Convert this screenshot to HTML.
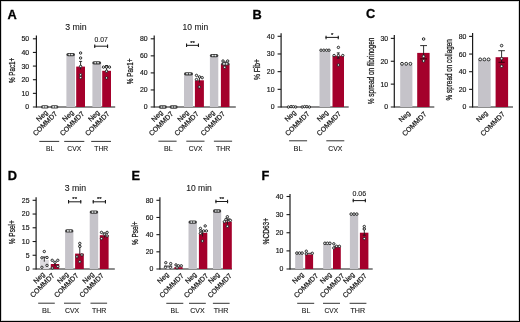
<!DOCTYPE html>
<html><head><meta charset="utf-8"><style>
html,body{margin:0;padding:0;background:#fff;width:520px;height:322px;overflow:hidden;}
body{position:relative;font-family:"Liberation Sans", sans-serif;}
</style></head><body>
<svg width="520" height="322" viewBox="0 0 520 322" style="position:absolute;left:0;top:0;will-change:transform">
<g font-family='"Liberation Sans", sans-serif'>
<rect x="0.5" y="0.5" width="519" height="321" fill="none" stroke="#000" stroke-width="1"/>
<rect x="1.5" y="1.5" width="517" height="319" fill="none" stroke="#bbb" stroke-width="0.6"/>
<text x="7.40" y="18.50" font-size="12.8" text-anchor="start" font-weight="bold" fill="#000" stroke="#000" stroke-width="0.3">A</text>
<text x="252.40" y="18.80" font-size="12.8" text-anchor="start" font-weight="bold" fill="#000" stroke="#000" stroke-width="0.3">B</text>
<text x="366.00" y="18.20" font-size="12.8" text-anchor="start" font-weight="bold" fill="#000" stroke="#000" stroke-width="0.3">C</text>
<text x="7.80" y="179.60" font-size="12.8" text-anchor="start" font-weight="bold" fill="#000" stroke="#000" stroke-width="0.3">D</text>
<text x="131.60" y="180.40" font-size="12.8" text-anchor="start" font-weight="bold" fill="#000" stroke="#000" stroke-width="0.3">E</text>
<text x="261.60" y="180.20" font-size="12.8" text-anchor="start" font-weight="bold" fill="#000" stroke="#000" stroke-width="0.3">F</text>
<line x1="36.40" y1="35.60" x2="36.40" y2="107.60" stroke="#1a1a1a" stroke-width="1.2"/>
<line x1="32.90" y1="107.00" x2="115.20" y2="107.00" stroke="#1a1a1a" stroke-width="1.2"/>
<text x="29.20" y="109.45" font-size="6.9" text-anchor="end" font-weight="normal" fill="#1a1a1a" stroke="#1a1a1a" stroke-width="0.18">0</text>
<line x1="32.90" y1="93.36" x2="36.40" y2="93.36" stroke="#1a1a1a" stroke-width="1.1"/>
<text x="29.20" y="95.81" font-size="6.9" text-anchor="end" font-weight="normal" fill="#1a1a1a" stroke="#1a1a1a" stroke-width="0.18">10</text>
<line x1="32.90" y1="79.72" x2="36.40" y2="79.72" stroke="#1a1a1a" stroke-width="1.1"/>
<text x="29.20" y="82.17" font-size="6.9" text-anchor="end" font-weight="normal" fill="#1a1a1a" stroke="#1a1a1a" stroke-width="0.18">20</text>
<line x1="32.90" y1="66.08" x2="36.40" y2="66.08" stroke="#1a1a1a" stroke-width="1.1"/>
<text x="29.20" y="68.53" font-size="6.9" text-anchor="end" font-weight="normal" fill="#1a1a1a" stroke="#1a1a1a" stroke-width="0.18">30</text>
<line x1="32.90" y1="52.44" x2="36.40" y2="52.44" stroke="#1a1a1a" stroke-width="1.1"/>
<text x="29.20" y="54.89" font-size="6.9" text-anchor="end" font-weight="normal" fill="#1a1a1a" stroke="#1a1a1a" stroke-width="0.18">40</text>
<line x1="32.90" y1="38.80" x2="36.40" y2="38.80" stroke="#1a1a1a" stroke-width="1.1"/>
<text x="29.20" y="41.25" font-size="6.9" text-anchor="end" font-weight="normal" fill="#1a1a1a" stroke="#1a1a1a" stroke-width="0.18">50</text>
<text x="75.85" y="29.70" font-size="9.1" text-anchor="middle" font-weight="normal" fill="#1a1a1a" textLength="21.4" lengthAdjust="spacingAndGlyphs" stroke="#1a1a1a" stroke-width="0.12">3 min</text>
<text x="14.90" y="70.40" font-size="8.6" text-anchor="middle" font-weight="normal" fill="#1a1a1a" transform="rotate(-90 14.90 70.40)" textLength="25.4" lengthAdjust="spacingAndGlyphs" stroke="#1a1a1a" stroke-width="0.28">% Pac1+</text>
<rect x="66.40" y="54.80" width="8.60" height="52.20" fill="#c5c3c9"/>
<rect x="76.20" y="66.60" width="8.80" height="40.40" fill="#a4002b"/>
<rect x="92.40" y="63.00" width="8.80" height="44.00" fill="#c5c3c9"/>
<rect x="102.20" y="70.80" width="8.80" height="36.20" fill="#a4002b"/>
<line x1="80.60" y1="61.40" x2="80.60" y2="69.50" stroke="#1a1a1a" stroke-width="0.9"/>
<line x1="79.10" y1="61.40" x2="82.10" y2="61.40" stroke="#1a1a1a" stroke-width="0.9"/>
<line x1="106.60" y1="65.50" x2="106.60" y2="72.50" stroke="#1a1a1a" stroke-width="0.9"/>
<line x1="105.10" y1="65.50" x2="108.10" y2="65.50" stroke="#1a1a1a" stroke-width="0.9"/>
<rect x="41.00" y="105.25" width="7.60" height="3.3" rx="1.65" fill="#3a3a3a"/>
<ellipse cx="43.58" cy="106.90" rx="1.05" ry="0.8" fill="#e8ecec"/>
<ellipse cx="45.94" cy="106.90" rx="1.05" ry="0.8" fill="#e8ecec"/>
<rect x="50.60" y="105.25" width="7.80" height="3.3" rx="1.65" fill="#3a3a3a"/>
<ellipse cx="53.25" cy="106.90" rx="1.05" ry="0.8" fill="#e8ecec"/>
<ellipse cx="55.67" cy="106.90" rx="1.05" ry="0.8" fill="#e8ecec"/>
<rect x="66.40" y="52.95" width="8.60" height="3.3" rx="1.65" fill="#3a3a3a"/>
<ellipse cx="69.32" cy="54.60" rx="1.05" ry="0.8" fill="#e8ecec"/>
<ellipse cx="71.99" cy="54.60" rx="1.05" ry="0.8" fill="#e8ecec"/>
<circle cx="80.60" cy="53.00" r="1.2" fill="#eef2f2" stroke="#1a1a1a" stroke-width="0.9"/>
<circle cx="80.60" cy="58.00" r="1.2" fill="#eef2f2" stroke="#1a1a1a" stroke-width="0.9"/>
<circle cx="80.60" cy="66.40" r="1.2" fill="#eef2f2" stroke="#1a1a1a" stroke-width="0.9"/>
<circle cx="80.60" cy="74.80" r="1.2" fill="#eef2f2" stroke="#1a1a1a" stroke-width="0.9"/>
<circle cx="80.60" cy="77.60" r="1.2" fill="#eef2f2" stroke="#1a1a1a" stroke-width="0.9"/>
<rect x="92.30" y="61.15" width="8.80" height="3.3" rx="1.65" fill="#3a3a3a"/>
<ellipse cx="95.29" cy="62.80" rx="1.05" ry="0.8" fill="#e8ecec"/>
<ellipse cx="98.02" cy="62.80" rx="1.05" ry="0.8" fill="#e8ecec"/>
<circle cx="103.50" cy="67.10" r="1.2" fill="#eef2f2" stroke="#1a1a1a" stroke-width="0.9"/>
<circle cx="106.50" cy="67.10" r="1.2" fill="#eef2f2" stroke="#1a1a1a" stroke-width="0.9"/>
<circle cx="109.50" cy="67.10" r="1.2" fill="#eef2f2" stroke="#1a1a1a" stroke-width="0.9"/>
<circle cx="106.50" cy="71.20" r="1.2" fill="#eef2f2" stroke="#1a1a1a" stroke-width="0.9"/>
<circle cx="106.50" cy="77.90" r="1.2" fill="#eef2f2" stroke="#1a1a1a" stroke-width="0.9"/>
<line x1="94.20" y1="46.20" x2="108.10" y2="46.20" stroke="#1a1a1a" stroke-width="1.0"/>
<line x1="94.75" y1="44.45" x2="94.75" y2="47.95" stroke="#1a1a1a" stroke-width="1.1"/>
<line x1="107.55" y1="44.45" x2="107.55" y2="47.95" stroke="#1a1a1a" stroke-width="1.1"/>
<text x="101.15" y="41.95" font-size="6.8" text-anchor="middle" font-weight="normal" fill="#1a1a1a" stroke="#1a1a1a" stroke-width="0.12">0.07</text>
<text x="48.20" y="113.00" font-size="7.0" text-anchor="end" font-weight="normal" fill="#1a1a1a" transform="rotate(-45 48.20 113.00)" stroke="#1a1a1a" stroke-width="0.22">Neg</text>
<text x="57.80" y="114.20" font-size="7.0" text-anchor="end" font-weight="normal" fill="#1a1a1a" transform="rotate(-45 57.80 114.20)" stroke="#1a1a1a" stroke-width="0.22">COMMD7</text>
<text x="74.20" y="113.00" font-size="7.0" text-anchor="end" font-weight="normal" fill="#1a1a1a" transform="rotate(-45 74.20 113.00)" stroke="#1a1a1a" stroke-width="0.22">Neg</text>
<text x="84.70" y="114.20" font-size="7.0" text-anchor="end" font-weight="normal" fill="#1a1a1a" transform="rotate(-45 84.70 114.20)" stroke="#1a1a1a" stroke-width="0.22">COMMD7</text>
<text x="100.10" y="113.00" font-size="7.0" text-anchor="end" font-weight="normal" fill="#1a1a1a" transform="rotate(-45 100.10 113.00)" stroke="#1a1a1a" stroke-width="0.22">Neg</text>
<text x="110.00" y="114.20" font-size="7.0" text-anchor="end" font-weight="normal" fill="#1a1a1a" transform="rotate(-45 110.00 114.20)" stroke="#1a1a1a" stroke-width="0.22">COMMD7</text>
<line x1="39.30" y1="141.40" x2="59.20" y2="141.40" stroke="#333" stroke-width="1.0"/>
<line x1="64.20" y1="141.40" x2="84.30" y2="141.40" stroke="#333" stroke-width="1.0"/>
<line x1="91.20" y1="141.40" x2="111.00" y2="141.40" stroke="#333" stroke-width="1.0"/>
<text x="50.10" y="151.00" font-size="7.3" text-anchor="middle" font-weight="normal" fill="#1a1a1a" textLength="8.2" lengthAdjust="spacingAndGlyphs" stroke="#1a1a1a" stroke-width="0.12">BL</text>
<text x="74.25" y="151.00" font-size="7.3" text-anchor="middle" font-weight="normal" fill="#1a1a1a" textLength="13.9" lengthAdjust="spacingAndGlyphs" stroke="#1a1a1a" stroke-width="0.12">CVX</text>
<text x="101.25" y="151.00" font-size="7.3" text-anchor="middle" font-weight="normal" fill="#1a1a1a" textLength="13.9" lengthAdjust="spacingAndGlyphs" stroke="#1a1a1a" stroke-width="0.12">THR</text>
<line x1="154.20" y1="35.60" x2="154.20" y2="107.60" stroke="#1a1a1a" stroke-width="1.2"/>
<line x1="150.70" y1="107.00" x2="235.80" y2="107.00" stroke="#1a1a1a" stroke-width="1.2"/>
<text x="147.60" y="109.45" font-size="6.9" text-anchor="end" font-weight="normal" fill="#1a1a1a" stroke="#1a1a1a" stroke-width="0.18">0</text>
<line x1="150.70" y1="89.95" x2="154.20" y2="89.95" stroke="#1a1a1a" stroke-width="1.1"/>
<text x="147.60" y="92.40" font-size="6.9" text-anchor="end" font-weight="normal" fill="#1a1a1a" stroke="#1a1a1a" stroke-width="0.18">20</text>
<line x1="150.70" y1="72.90" x2="154.20" y2="72.90" stroke="#1a1a1a" stroke-width="1.1"/>
<text x="147.60" y="75.35" font-size="6.9" text-anchor="end" font-weight="normal" fill="#1a1a1a" stroke="#1a1a1a" stroke-width="0.18">40</text>
<line x1="150.70" y1="55.85" x2="154.20" y2="55.85" stroke="#1a1a1a" stroke-width="1.1"/>
<text x="147.60" y="58.30" font-size="6.9" text-anchor="end" font-weight="normal" fill="#1a1a1a" stroke="#1a1a1a" stroke-width="0.18">60</text>
<line x1="150.70" y1="38.80" x2="154.20" y2="38.80" stroke="#1a1a1a" stroke-width="1.1"/>
<text x="147.60" y="41.25" font-size="6.9" text-anchor="end" font-weight="normal" fill="#1a1a1a" stroke="#1a1a1a" stroke-width="0.18">80</text>
<text x="195.40" y="29.80" font-size="9.1" text-anchor="middle" font-weight="normal" fill="#1a1a1a" textLength="25.6" lengthAdjust="spacingAndGlyphs" stroke="#1a1a1a" stroke-width="0.12">10 min</text>
<text x="132.80" y="71.35" font-size="8.6" text-anchor="middle" font-weight="normal" fill="#1a1a1a" transform="rotate(-90 132.80 71.35)" textLength="25.7" lengthAdjust="spacingAndGlyphs" stroke="#1a1a1a" stroke-width="0.28">% Pac1+</text>
<rect x="184.00" y="73.80" width="9.00" height="33.20" fill="#c5c3c9"/>
<rect x="194.90" y="80.30" width="9.00" height="26.70" fill="#a4002b"/>
<rect x="209.90" y="55.60" width="8.40" height="51.40" fill="#c5c3c9"/>
<rect x="220.90" y="63.90" width="8.60" height="43.10" fill="#a4002b"/>
<line x1="199.40" y1="76.80" x2="199.40" y2="82.50" stroke="#1a1a1a" stroke-width="0.9"/>
<line x1="197.90" y1="76.80" x2="200.90" y2="76.80" stroke="#1a1a1a" stroke-width="0.9"/>
<line x1="225.20" y1="62.00" x2="225.20" y2="66.00" stroke="#1a1a1a" stroke-width="0.9"/>
<line x1="223.70" y1="62.00" x2="226.70" y2="62.00" stroke="#1a1a1a" stroke-width="0.9"/>
<rect x="158.80" y="105.35" width="8.10" height="3.3" rx="1.65" fill="#3a3a3a"/>
<ellipse cx="161.55" cy="107.00" rx="1.05" ry="0.8" fill="#e8ecec"/>
<ellipse cx="164.06" cy="107.00" rx="1.05" ry="0.8" fill="#e8ecec"/>
<rect x="169.60" y="105.35" width="8.10" height="3.3" rx="1.65" fill="#3a3a3a"/>
<ellipse cx="172.35" cy="107.00" rx="1.05" ry="0.8" fill="#e8ecec"/>
<ellipse cx="174.86" cy="107.00" rx="1.05" ry="0.8" fill="#e8ecec"/>
<rect x="184.00" y="72.15" width="9.00" height="3.3" rx="1.65" fill="#3a3a3a"/>
<ellipse cx="187.06" cy="73.80" rx="1.05" ry="0.8" fill="#e8ecec"/>
<ellipse cx="189.85" cy="73.80" rx="1.05" ry="0.8" fill="#e8ecec"/>
<circle cx="196.50" cy="75.40" r="1.2" fill="#eef2f2" stroke="#1a1a1a" stroke-width="0.9"/>
<circle cx="199.60" cy="76.90" r="1.2" fill="#eef2f2" stroke="#1a1a1a" stroke-width="0.9"/>
<circle cx="202.20" cy="77.70" r="1.2" fill="#eef2f2" stroke="#1a1a1a" stroke-width="0.9"/>
<circle cx="196.50" cy="79.50" r="1.2" fill="#eef2f2" stroke="#1a1a1a" stroke-width="0.9"/>
<circle cx="199.30" cy="86.90" r="1.2" fill="#eef2f2" stroke="#1a1a1a" stroke-width="0.9"/>
<rect x="209.90" y="53.95" width="8.40" height="3.3" rx="1.65" fill="#3a3a3a"/>
<ellipse cx="212.76" cy="55.60" rx="1.05" ry="0.8" fill="#e8ecec"/>
<ellipse cx="215.36" cy="55.60" rx="1.05" ry="0.8" fill="#e8ecec"/>
<circle cx="223.00" cy="61.00" r="1.2" fill="#eef2f2" stroke="#1a1a1a" stroke-width="0.9"/>
<circle cx="227.70" cy="61.00" r="1.2" fill="#eef2f2" stroke="#1a1a1a" stroke-width="0.9"/>
<rect x="221.20" y="62.25" width="8.30" height="3.3" rx="1.65" fill="#3a3a3a"/>
<ellipse cx="224.02" cy="63.90" rx="1.05" ry="0.8" fill="#e8ecec"/>
<ellipse cx="226.59" cy="63.90" rx="1.05" ry="0.8" fill="#e8ecec"/>
<circle cx="224.70" cy="67.30" r="1.2" fill="#eef2f2" stroke="#1a1a1a" stroke-width="0.9"/>
<line x1="186.00" y1="45.35" x2="199.00" y2="45.35" stroke="#1a1a1a" stroke-width="1.0"/>
<line x1="186.55" y1="43.60" x2="186.55" y2="47.10" stroke="#1a1a1a" stroke-width="1.1"/>
<line x1="198.45" y1="43.60" x2="198.45" y2="47.10" stroke="#1a1a1a" stroke-width="1.1"/>
<text x="192.50" y="44.90" font-size="6.0" text-anchor="middle" font-weight="normal" fill="#1a1a1a" stroke="#1a1a1a" stroke-width="0.22">**</text>
<text x="163.30" y="113.10" font-size="7.0" text-anchor="end" font-weight="normal" fill="#1a1a1a" transform="rotate(-45 163.30 113.10)" stroke="#1a1a1a" stroke-width="0.22">Neg</text>
<text x="173.80" y="114.30" font-size="7.0" text-anchor="end" font-weight="normal" fill="#1a1a1a" transform="rotate(-45 173.80 114.30)" stroke="#1a1a1a" stroke-width="0.22">COMMD7</text>
<text x="189.30" y="113.10" font-size="7.0" text-anchor="end" font-weight="normal" fill="#1a1a1a" transform="rotate(-45 189.30 113.10)" stroke="#1a1a1a" stroke-width="0.22">Neg</text>
<text x="199.20" y="114.30" font-size="7.0" text-anchor="end" font-weight="normal" fill="#1a1a1a" transform="rotate(-45 199.20 114.30)" stroke="#1a1a1a" stroke-width="0.22">COMMD7</text>
<text x="215.30" y="113.10" font-size="7.0" text-anchor="end" font-weight="normal" fill="#1a1a1a" transform="rotate(-45 215.30 113.10)" stroke="#1a1a1a" stroke-width="0.22">Neg</text>
<text x="225.50" y="114.30" font-size="7.0" text-anchor="end" font-weight="normal" fill="#1a1a1a" transform="rotate(-45 225.50 114.30)" stroke="#1a1a1a" stroke-width="0.22">COMMD7</text>
<line x1="158.40" y1="141.20" x2="176.60" y2="141.20" stroke="#333" stroke-width="1.0"/>
<line x1="186.30" y1="141.20" x2="204.50" y2="141.20" stroke="#333" stroke-width="1.0"/>
<line x1="213.90" y1="141.20" x2="232.10" y2="141.20" stroke="#333" stroke-width="1.0"/>
<text x="168.45" y="151.00" font-size="7.3" text-anchor="middle" font-weight="normal" fill="#1a1a1a" textLength="8.7" lengthAdjust="spacingAndGlyphs" stroke="#1a1a1a" stroke-width="0.12">BL</text>
<text x="195.55" y="151.00" font-size="7.3" text-anchor="middle" font-weight="normal" fill="#1a1a1a" textLength="13.5" lengthAdjust="spacingAndGlyphs" stroke="#1a1a1a" stroke-width="0.12">CVX</text>
<text x="223.25" y="151.00" font-size="7.3" text-anchor="middle" font-weight="normal" fill="#1a1a1a" textLength="14.3" lengthAdjust="spacingAndGlyphs" stroke="#1a1a1a" stroke-width="0.12">THR</text>
<line x1="281.10" y1="33.30" x2="281.10" y2="107.60" stroke="#1a1a1a" stroke-width="1.2"/>
<line x1="277.60" y1="107.00" x2="348.70" y2="107.00" stroke="#1a1a1a" stroke-width="1.2"/>
<text x="274.50" y="109.45" font-size="6.9" text-anchor="end" font-weight="normal" fill="#1a1a1a" stroke="#1a1a1a" stroke-width="0.18">0</text>
<line x1="277.60" y1="89.33" x2="281.10" y2="89.33" stroke="#1a1a1a" stroke-width="1.1"/>
<text x="274.50" y="91.78" font-size="6.9" text-anchor="end" font-weight="normal" fill="#1a1a1a" stroke="#1a1a1a" stroke-width="0.18">10</text>
<line x1="277.60" y1="71.65" x2="281.10" y2="71.65" stroke="#1a1a1a" stroke-width="1.1"/>
<text x="274.50" y="74.10" font-size="6.9" text-anchor="end" font-weight="normal" fill="#1a1a1a" stroke="#1a1a1a" stroke-width="0.18">20</text>
<line x1="277.60" y1="53.97" x2="281.10" y2="53.97" stroke="#1a1a1a" stroke-width="1.1"/>
<text x="274.50" y="56.42" font-size="6.9" text-anchor="end" font-weight="normal" fill="#1a1a1a" stroke="#1a1a1a" stroke-width="0.18">30</text>
<line x1="277.60" y1="36.30" x2="281.10" y2="36.30" stroke="#1a1a1a" stroke-width="1.1"/>
<text x="274.50" y="38.75" font-size="6.9" text-anchor="end" font-weight="normal" fill="#1a1a1a" stroke="#1a1a1a" stroke-width="0.18">40</text>
<text x="260.50" y="69.60" font-size="8.6" text-anchor="middle" font-weight="normal" fill="#1a1a1a" transform="rotate(-90 260.50 69.60)" textLength="21.0" lengthAdjust="spacingAndGlyphs" stroke="#1a1a1a" stroke-width="0.28">% Fib+</text>
<rect x="319.50" y="50.20" width="10.80" height="56.80" fill="#c5c3c9"/>
<rect x="332.50" y="55.90" width="11.50" height="51.10" fill="#a4002b"/>
<line x1="338.30" y1="52.90" x2="338.30" y2="58.10" stroke="#1a1a1a" stroke-width="0.9"/>
<line x1="336.80" y1="52.90" x2="339.80" y2="52.90" stroke="#1a1a1a" stroke-width="0.9"/>
<line x1="336.80" y1="58.10" x2="339.80" y2="58.10" stroke="#1a1a1a" stroke-width="0.9"/>
<circle cx="288.40" cy="107.00" r="1.2" fill="#eef2f2" stroke="#1a1a1a" stroke-width="0.9"/>
<circle cx="291.10" cy="106.60" r="1.2" fill="#eef2f2" stroke="#1a1a1a" stroke-width="0.9"/>
<circle cx="293.40" cy="106.70" r="1.2" fill="#eef2f2" stroke="#1a1a1a" stroke-width="0.9"/>
<circle cx="295.70" cy="107.00" r="1.2" fill="#eef2f2" stroke="#1a1a1a" stroke-width="0.9"/>
<circle cx="302.20" cy="107.00" r="1.2" fill="#eef2f2" stroke="#1a1a1a" stroke-width="0.9"/>
<circle cx="304.60" cy="106.60" r="1.2" fill="#eef2f2" stroke="#1a1a1a" stroke-width="0.9"/>
<circle cx="306.90" cy="106.70" r="1.2" fill="#eef2f2" stroke="#1a1a1a" stroke-width="0.9"/>
<circle cx="309.40" cy="107.00" r="1.2" fill="#eef2f2" stroke="#1a1a1a" stroke-width="0.9"/>
<circle cx="321.00" cy="50.20" r="1.2" fill="#eef2f2" stroke="#1a1a1a" stroke-width="0.9"/>
<circle cx="323.80" cy="50.20" r="1.2" fill="#eef2f2" stroke="#1a1a1a" stroke-width="0.9"/>
<circle cx="326.60" cy="50.20" r="1.2" fill="#eef2f2" stroke="#1a1a1a" stroke-width="0.9"/>
<circle cx="329.00" cy="50.20" r="1.2" fill="#eef2f2" stroke="#1a1a1a" stroke-width="0.9"/>
<circle cx="338.40" cy="47.40" r="1.2" fill="#eef2f2" stroke="#1a1a1a" stroke-width="0.9"/>
<circle cx="334.10" cy="55.50" r="1.2" fill="#eef2f2" stroke="#1a1a1a" stroke-width="0.9"/>
<circle cx="338.40" cy="55.50" r="1.2" fill="#eef2f2" stroke="#1a1a1a" stroke-width="0.9"/>
<circle cx="342.80" cy="55.50" r="1.2" fill="#eef2f2" stroke="#1a1a1a" stroke-width="0.9"/>
<circle cx="338.40" cy="65.00" r="1.2" fill="#eef2f2" stroke="#1a1a1a" stroke-width="0.9"/>
<line x1="325.50" y1="37.40" x2="338.80" y2="37.40" stroke="#1a1a1a" stroke-width="1.0"/>
<line x1="326.05" y1="35.65" x2="326.05" y2="39.15" stroke="#1a1a1a" stroke-width="1.1"/>
<line x1="338.25" y1="35.65" x2="338.25" y2="39.15" stroke="#1a1a1a" stroke-width="1.1"/>
<text x="332.15" y="36.90" font-size="6.0" text-anchor="middle" font-weight="normal" fill="#1a1a1a" stroke="#1a1a1a" stroke-width="0.22">*</text>
<text x="296.50" y="113.00" font-size="7.0" text-anchor="end" font-weight="normal" fill="#1a1a1a" transform="rotate(-45 296.50 113.00)" stroke="#1a1a1a" stroke-width="0.22">Neg</text>
<text x="310.00" y="114.20" font-size="7.0" text-anchor="end" font-weight="normal" fill="#1a1a1a" transform="rotate(-45 310.00 114.20)" stroke="#1a1a1a" stroke-width="0.22">COMMD7</text>
<text x="328.80" y="113.00" font-size="7.0" text-anchor="end" font-weight="normal" fill="#1a1a1a" transform="rotate(-45 328.80 113.00)" stroke="#1a1a1a" stroke-width="0.22">Neg</text>
<text x="341.60" y="114.20" font-size="7.0" text-anchor="end" font-weight="normal" fill="#1a1a1a" transform="rotate(-45 341.60 114.20)" stroke="#1a1a1a" stroke-width="0.22">COMMD7</text>
<line x1="289.10" y1="140.80" x2="307.10" y2="140.80" stroke="#333" stroke-width="1.0"/>
<line x1="326.30" y1="140.80" x2="344.30" y2="140.80" stroke="#333" stroke-width="1.0"/>
<text x="298.10" y="150.70" font-size="7.3" text-anchor="middle" font-weight="normal" fill="#1a1a1a" textLength="9.0" lengthAdjust="spacingAndGlyphs" stroke="#1a1a1a" stroke-width="0.12">BL</text>
<text x="335.25" y="150.70" font-size="7.3" text-anchor="middle" font-weight="normal" fill="#1a1a1a" textLength="14.1" lengthAdjust="spacingAndGlyphs" stroke="#1a1a1a" stroke-width="0.12">CVX</text>
<line x1="394.30" y1="35.00" x2="394.30" y2="107.60" stroke="#1a1a1a" stroke-width="1.2"/>
<line x1="390.80" y1="107.00" x2="434.30" y2="107.00" stroke="#1a1a1a" stroke-width="1.2"/>
<text x="388.20" y="109.45" font-size="6.9" text-anchor="end" font-weight="normal" fill="#1a1a1a" stroke="#1a1a1a" stroke-width="0.18">0</text>
<line x1="390.80" y1="84.13" x2="394.30" y2="84.13" stroke="#1a1a1a" stroke-width="1.1"/>
<text x="388.20" y="86.58" font-size="6.9" text-anchor="end" font-weight="normal" fill="#1a1a1a" stroke="#1a1a1a" stroke-width="0.18">10</text>
<line x1="390.80" y1="61.26" x2="394.30" y2="61.26" stroke="#1a1a1a" stroke-width="1.1"/>
<text x="388.20" y="63.71" font-size="6.9" text-anchor="end" font-weight="normal" fill="#1a1a1a" stroke="#1a1a1a" stroke-width="0.18">20</text>
<line x1="390.80" y1="38.39" x2="394.30" y2="38.39" stroke="#1a1a1a" stroke-width="1.1"/>
<text x="388.20" y="40.84" font-size="6.9" text-anchor="end" font-weight="normal" fill="#1a1a1a" stroke="#1a1a1a" stroke-width="0.18">30</text>
<text x="374.00" y="70.90" font-size="8.8" text-anchor="middle" font-weight="normal" fill="#1a1a1a" transform="rotate(-90 374.00 70.90)" textLength="66.6" lengthAdjust="spacingAndGlyphs" stroke="#1a1a1a" stroke-width="0.28">% spread on fibrinogen</text>
<rect x="400.20" y="65.00" width="12.20" height="42.00" fill="#c5c3c9"/>
<rect x="417.20" y="52.90" width="12.40" height="54.10" fill="#a4002b"/>
<line x1="423.60" y1="45.60" x2="423.60" y2="58.90" stroke="#1a1a1a" stroke-width="0.9"/>
<line x1="420.20" y1="45.60" x2="427.00" y2="45.60" stroke="#1a1a1a" stroke-width="0.9"/>
<line x1="420.20" y1="58.90" x2="427.00" y2="58.90" stroke="#2a0008" stroke-width="0.9"/>
<circle cx="402.00" cy="63.80" r="1.45" fill="#eef2f2" stroke="#1a1a1a" stroke-width="0.9"/>
<circle cx="406.20" cy="63.80" r="1.45" fill="#eef2f2" stroke="#1a1a1a" stroke-width="0.9"/>
<circle cx="410.40" cy="63.80" r="1.45" fill="#eef2f2" stroke="#1a1a1a" stroke-width="0.9"/>
<circle cx="423.60" cy="39.00" r="1.3" fill="#eef2f2" stroke="#1a1a1a" stroke-width="0.9"/>
<circle cx="423.60" cy="56.40" r="1.3" fill="#eef2f2" stroke="#1a1a1a" stroke-width="0.9"/>
<circle cx="423.60" cy="60.90" r="1.3" fill="#eef2f2" stroke="#1a1a1a" stroke-width="0.9"/>
<text x="410.70" y="113.40" font-size="7.0" text-anchor="end" font-weight="normal" fill="#1a1a1a" transform="rotate(-45 410.70 113.40)" stroke="#1a1a1a" stroke-width="0.22">Neg</text>
<text x="427.00" y="114.60" font-size="7.0" text-anchor="end" font-weight="normal" fill="#1a1a1a" transform="rotate(-45 427.00 114.60)" stroke="#1a1a1a" stroke-width="0.22">COMMD7</text>
<line x1="472.60" y1="33.00" x2="472.60" y2="107.60" stroke="#1a1a1a" stroke-width="1.2"/>
<line x1="469.10" y1="107.00" x2="513.00" y2="107.00" stroke="#1a1a1a" stroke-width="1.2"/>
<text x="466.40" y="109.45" font-size="6.9" text-anchor="end" font-weight="normal" fill="#1a1a1a" stroke="#1a1a1a" stroke-width="0.18">0</text>
<line x1="469.10" y1="89.35" x2="472.60" y2="89.35" stroke="#1a1a1a" stroke-width="1.1"/>
<text x="466.40" y="91.80" font-size="6.9" text-anchor="end" font-weight="normal" fill="#1a1a1a" stroke="#1a1a1a" stroke-width="0.18">20</text>
<line x1="469.10" y1="71.70" x2="472.60" y2="71.70" stroke="#1a1a1a" stroke-width="1.1"/>
<text x="466.40" y="74.15" font-size="6.9" text-anchor="end" font-weight="normal" fill="#1a1a1a" stroke="#1a1a1a" stroke-width="0.18">40</text>
<line x1="469.10" y1="54.05" x2="472.60" y2="54.05" stroke="#1a1a1a" stroke-width="1.1"/>
<text x="466.40" y="56.50" font-size="6.9" text-anchor="end" font-weight="normal" fill="#1a1a1a" stroke="#1a1a1a" stroke-width="0.18">60</text>
<line x1="469.10" y1="36.40" x2="472.60" y2="36.40" stroke="#1a1a1a" stroke-width="1.1"/>
<text x="466.40" y="38.85" font-size="6.9" text-anchor="end" font-weight="normal" fill="#1a1a1a" stroke="#1a1a1a" stroke-width="0.18">80</text>
<text x="452.50" y="69.80" font-size="8.8" text-anchor="middle" font-weight="normal" fill="#1a1a1a" transform="rotate(-90 452.50 69.80)" textLength="61.2" lengthAdjust="spacingAndGlyphs" stroke="#1a1a1a" stroke-width="0.28">% spread on collagen</text>
<rect x="478.00" y="60.00" width="12.70" height="47.00" fill="#c5c3c9"/>
<rect x="495.60" y="57.20" width="12.50" height="49.80" fill="#a4002b"/>
<line x1="501.60" y1="50.70" x2="501.60" y2="62.30" stroke="#1a1a1a" stroke-width="0.9"/>
<line x1="498.30" y1="50.70" x2="504.90" y2="50.70" stroke="#1a1a1a" stroke-width="0.9"/>
<line x1="498.50" y1="62.30" x2="504.70" y2="62.30" stroke="#2a0008" stroke-width="0.9"/>
<circle cx="480.20" cy="59.40" r="1.45" fill="#eef2f2" stroke="#1a1a1a" stroke-width="0.9"/>
<circle cx="484.40" cy="59.40" r="1.45" fill="#eef2f2" stroke="#1a1a1a" stroke-width="0.9"/>
<circle cx="488.60" cy="59.40" r="1.45" fill="#eef2f2" stroke="#1a1a1a" stroke-width="0.9"/>
<circle cx="501.60" cy="45.60" r="1.3" fill="#eef2f2" stroke="#1a1a1a" stroke-width="0.9"/>
<circle cx="501.60" cy="58.60" r="1.3" fill="#eef2f2" stroke="#1a1a1a" stroke-width="0.9"/>
<circle cx="501.60" cy="66.30" r="1.3" fill="#eef2f2" stroke="#1a1a1a" stroke-width="0.9"/>
<text x="488.20" y="113.40" font-size="7.0" text-anchor="end" font-weight="normal" fill="#1a1a1a" transform="rotate(-45 488.20 113.40)" stroke="#1a1a1a" stroke-width="0.22">Neg</text>
<text x="505.30" y="114.60" font-size="7.0" text-anchor="end" font-weight="normal" fill="#1a1a1a" transform="rotate(-45 505.30 114.60)" stroke="#1a1a1a" stroke-width="0.22">COMMD7</text>
<line x1="36.10" y1="197.30" x2="36.10" y2="269.60" stroke="#1a1a1a" stroke-width="1.2"/>
<line x1="32.60" y1="269.00" x2="114.80" y2="269.00" stroke="#1a1a1a" stroke-width="1.2"/>
<text x="29.50" y="271.45" font-size="6.9" text-anchor="end" font-weight="normal" fill="#1a1a1a" stroke="#1a1a1a" stroke-width="0.18">0</text>
<line x1="32.60" y1="255.26" x2="36.10" y2="255.26" stroke="#1a1a1a" stroke-width="1.1"/>
<text x="29.50" y="257.71" font-size="6.9" text-anchor="end" font-weight="normal" fill="#1a1a1a" stroke="#1a1a1a" stroke-width="0.18">5</text>
<line x1="32.60" y1="241.52" x2="36.10" y2="241.52" stroke="#1a1a1a" stroke-width="1.1"/>
<text x="29.50" y="243.97" font-size="6.9" text-anchor="end" font-weight="normal" fill="#1a1a1a" stroke="#1a1a1a" stroke-width="0.18">10</text>
<line x1="32.60" y1="227.78" x2="36.10" y2="227.78" stroke="#1a1a1a" stroke-width="1.1"/>
<text x="29.50" y="230.23" font-size="6.9" text-anchor="end" font-weight="normal" fill="#1a1a1a" stroke="#1a1a1a" stroke-width="0.18">15</text>
<line x1="32.60" y1="214.04" x2="36.10" y2="214.04" stroke="#1a1a1a" stroke-width="1.1"/>
<text x="29.50" y="216.49" font-size="6.9" text-anchor="end" font-weight="normal" fill="#1a1a1a" stroke="#1a1a1a" stroke-width="0.18">20</text>
<line x1="32.60" y1="200.30" x2="36.10" y2="200.30" stroke="#1a1a1a" stroke-width="1.1"/>
<text x="29.50" y="202.75" font-size="6.9" text-anchor="end" font-weight="normal" fill="#1a1a1a" stroke="#1a1a1a" stroke-width="0.18">25</text>
<text x="75.40" y="191.40" font-size="9.1" text-anchor="middle" font-weight="normal" fill="#1a1a1a" textLength="21.4" lengthAdjust="spacingAndGlyphs" stroke="#1a1a1a" stroke-width="0.12">3 min</text>
<text x="14.90" y="232.20" font-size="8.6" text-anchor="middle" font-weight="normal" fill="#1a1a1a" transform="rotate(-90 14.90 232.20)" textLength="24.0" lengthAdjust="spacingAndGlyphs" stroke="#1a1a1a" stroke-width="0.28">% Psel+</text>
<rect x="40.00" y="260.00" width="8.90" height="9.00" fill="#dddce0"/>
<rect x="50.80" y="264.00" width="8.40" height="5.00" fill="#a4002b"/>
<rect x="65.10" y="231.00" width="8.30" height="38.00" fill="#c5c3c9"/>
<rect x="75.10" y="253.60" width="8.70" height="15.40" fill="#a4002b"/>
<rect x="89.70" y="212.10" width="8.50" height="56.90" fill="#c5c3c9"/>
<rect x="99.80" y="235.20" width="8.80" height="33.80" fill="#a4002b"/>
<line x1="44.30" y1="257.00" x2="44.30" y2="261.70" stroke="#1a1a1a" stroke-width="0.9"/>
<line x1="42.80" y1="257.00" x2="45.80" y2="257.00" stroke="#1a1a1a" stroke-width="0.9"/>
<line x1="55.00" y1="262.00" x2="55.00" y2="266.00" stroke="#1a1a1a" stroke-width="0.9"/>
<line x1="53.50" y1="262.00" x2="56.50" y2="262.00" stroke="#1a1a1a" stroke-width="0.9"/>
<line x1="79.80" y1="246.20" x2="79.80" y2="254.60" stroke="#1a1a1a" stroke-width="0.9"/>
<line x1="78.30" y1="246.20" x2="81.30" y2="246.20" stroke="#1a1a1a" stroke-width="0.9"/>
<line x1="104.40" y1="233.00" x2="104.40" y2="237.50" stroke="#1a1a1a" stroke-width="0.9"/>
<line x1="102.90" y1="233.00" x2="105.90" y2="233.00" stroke="#1a1a1a" stroke-width="0.9"/>
<circle cx="44.30" cy="251.50" r="1.2" fill="#eef2f2" stroke="#1a1a1a" stroke-width="0.9"/>
<circle cx="41.90" cy="257.80" r="1.2" fill="#eef2f2" stroke="#1a1a1a" stroke-width="0.9"/>
<circle cx="47.00" cy="257.50" r="1.2" fill="#eef2f2" stroke="#1a1a1a" stroke-width="0.9"/>
<circle cx="47.00" cy="265.40" r="1.2" fill="#eef2f2" stroke="#1a1a1a" stroke-width="0.9"/>
<circle cx="41.90" cy="267.30" r="1.2" fill="#eef2f2" stroke="#1a1a1a" stroke-width="0.9"/>
<circle cx="52.20" cy="260.30" r="1.2" fill="#eef2f2" stroke="#1a1a1a" stroke-width="0.9"/>
<circle cx="57.80" cy="260.30" r="1.2" fill="#eef2f2" stroke="#1a1a1a" stroke-width="0.9"/>
<circle cx="55.00" cy="262.30" r="1.2" fill="#eef2f2" stroke="#1a1a1a" stroke-width="0.9"/>
<circle cx="52.30" cy="268.00" r="1.2" fill="#eef2f2" stroke="#1a1a1a" stroke-width="0.9"/>
<circle cx="57.80" cy="266.40" r="1.2" fill="#eef2f2" stroke="#1a1a1a" stroke-width="0.9"/>
<rect x="65.10" y="229.25" width="8.30" height="3.3" rx="1.65" fill="#3a3a3a"/>
<ellipse cx="67.92" cy="230.90" rx="1.05" ry="0.8" fill="#e8ecec"/>
<ellipse cx="70.50" cy="230.90" rx="1.05" ry="0.8" fill="#e8ecec"/>
<circle cx="79.80" cy="243.40" r="1.2" fill="#eef2f2" stroke="#1a1a1a" stroke-width="0.9"/>
<circle cx="79.80" cy="246.50" r="1.2" fill="#eef2f2" stroke="#1a1a1a" stroke-width="0.9"/>
<circle cx="76.90" cy="256.80" r="1.2" fill="#eef2f2" stroke="#1a1a1a" stroke-width="0.9"/>
<circle cx="81.90" cy="254.90" r="1.2" fill="#eef2f2" stroke="#1a1a1a" stroke-width="0.9"/>
<circle cx="79.80" cy="261.70" r="1.2" fill="#eef2f2" stroke="#1a1a1a" stroke-width="0.9"/>
<rect x="89.70" y="210.45" width="8.50" height="3.3" rx="1.65" fill="#3a3a3a"/>
<ellipse cx="92.59" cy="212.10" rx="1.05" ry="0.8" fill="#e8ecec"/>
<ellipse cx="95.23" cy="212.10" rx="1.05" ry="0.8" fill="#e8ecec"/>
<circle cx="101.50" cy="232.40" r="1.2" fill="#eef2f2" stroke="#1a1a1a" stroke-width="0.9"/>
<circle cx="107.10" cy="232.40" r="1.2" fill="#eef2f2" stroke="#1a1a1a" stroke-width="0.9"/>
<circle cx="104.30" cy="234.20" r="1.2" fill="#eef2f2" stroke="#1a1a1a" stroke-width="0.9"/>
<circle cx="101.50" cy="238.60" r="1.2" fill="#eef2f2" stroke="#1a1a1a" stroke-width="0.9"/>
<circle cx="107.10" cy="235.90" r="1.2" fill="#eef2f2" stroke="#1a1a1a" stroke-width="0.9"/>
<line x1="68.00" y1="201.80" x2="81.30" y2="201.80" stroke="#1a1a1a" stroke-width="1.0"/>
<line x1="68.55" y1="200.05" x2="68.55" y2="203.55" stroke="#1a1a1a" stroke-width="1.1"/>
<line x1="80.75" y1="200.05" x2="80.75" y2="203.55" stroke="#1a1a1a" stroke-width="1.1"/>
<text x="74.65" y="201.20" font-size="6.0" text-anchor="middle" font-weight="normal" fill="#1a1a1a" stroke="#1a1a1a" stroke-width="0.22">**</text>
<line x1="92.70" y1="201.80" x2="106.00" y2="201.80" stroke="#1a1a1a" stroke-width="1.0"/>
<line x1="93.25" y1="200.05" x2="93.25" y2="203.55" stroke="#1a1a1a" stroke-width="1.1"/>
<line x1="105.45" y1="200.05" x2="105.45" y2="203.55" stroke="#1a1a1a" stroke-width="1.1"/>
<text x="99.35" y="201.20" font-size="6.0" text-anchor="middle" font-weight="normal" fill="#1a1a1a" stroke="#1a1a1a" stroke-width="0.22">**</text>
<text x="45.30" y="274.80" font-size="7.0" text-anchor="end" font-weight="normal" fill="#1a1a1a" transform="rotate(-45 45.30 274.80)" stroke="#1a1a1a" stroke-width="0.22">Neg</text>
<text x="55.00" y="276.00" font-size="7.0" text-anchor="end" font-weight="normal" fill="#1a1a1a" transform="rotate(-45 55.00 276.00)" stroke="#1a1a1a" stroke-width="0.22">COMMD7</text>
<text x="69.00" y="274.80" font-size="7.0" text-anchor="end" font-weight="normal" fill="#1a1a1a" transform="rotate(-45 69.00 274.80)" stroke="#1a1a1a" stroke-width="0.22">Neg</text>
<text x="78.90" y="276.00" font-size="7.0" text-anchor="end" font-weight="normal" fill="#1a1a1a" transform="rotate(-45 78.90 276.00)" stroke="#1a1a1a" stroke-width="0.22">COMMD7</text>
<text x="94.40" y="274.80" font-size="7.0" text-anchor="end" font-weight="normal" fill="#1a1a1a" transform="rotate(-45 94.40 274.80)" stroke="#1a1a1a" stroke-width="0.22">Neg</text>
<text x="104.30" y="276.00" font-size="7.0" text-anchor="end" font-weight="normal" fill="#1a1a1a" transform="rotate(-45 104.30 276.00)" stroke="#1a1a1a" stroke-width="0.22">COMMD7</text>
<line x1="38.20" y1="303.20" x2="54.80" y2="303.20" stroke="#333" stroke-width="1.0"/>
<line x1="64.00" y1="303.20" x2="80.70" y2="303.20" stroke="#333" stroke-width="1.0"/>
<line x1="90.50" y1="303.20" x2="107.10" y2="303.20" stroke="#333" stroke-width="1.0"/>
<text x="46.60" y="312.60" font-size="7.3" text-anchor="middle" font-weight="normal" fill="#1a1a1a" textLength="9.0" lengthAdjust="spacingAndGlyphs" stroke="#1a1a1a" stroke-width="0.12">BL</text>
<text x="72.05" y="312.60" font-size="7.3" text-anchor="middle" font-weight="normal" fill="#1a1a1a" textLength="14.3" lengthAdjust="spacingAndGlyphs" stroke="#1a1a1a" stroke-width="0.12">CVX</text>
<text x="99.05" y="312.60" font-size="7.3" text-anchor="middle" font-weight="normal" fill="#1a1a1a" textLength="14.3" lengthAdjust="spacingAndGlyphs" stroke="#1a1a1a" stroke-width="0.12">THR</text>
<line x1="159.90" y1="197.30" x2="159.90" y2="269.60" stroke="#1a1a1a" stroke-width="1.2"/>
<line x1="156.40" y1="269.00" x2="232.00" y2="269.00" stroke="#1a1a1a" stroke-width="1.2"/>
<text x="153.30" y="271.45" font-size="6.9" text-anchor="end" font-weight="normal" fill="#1a1a1a" stroke="#1a1a1a" stroke-width="0.18">0</text>
<line x1="156.40" y1="251.82" x2="159.90" y2="251.82" stroke="#1a1a1a" stroke-width="1.1"/>
<text x="153.30" y="254.27" font-size="6.9" text-anchor="end" font-weight="normal" fill="#1a1a1a" stroke="#1a1a1a" stroke-width="0.18">20</text>
<line x1="156.40" y1="234.65" x2="159.90" y2="234.65" stroke="#1a1a1a" stroke-width="1.1"/>
<text x="153.30" y="237.10" font-size="6.9" text-anchor="end" font-weight="normal" fill="#1a1a1a" stroke="#1a1a1a" stroke-width="0.18">40</text>
<line x1="156.40" y1="217.47" x2="159.90" y2="217.47" stroke="#1a1a1a" stroke-width="1.1"/>
<text x="153.30" y="219.92" font-size="6.9" text-anchor="end" font-weight="normal" fill="#1a1a1a" stroke="#1a1a1a" stroke-width="0.18">60</text>
<line x1="156.40" y1="200.30" x2="159.90" y2="200.30" stroke="#1a1a1a" stroke-width="1.1"/>
<text x="153.30" y="202.75" font-size="6.9" text-anchor="end" font-weight="normal" fill="#1a1a1a" stroke="#1a1a1a" stroke-width="0.18">80</text>
<text x="199.05" y="191.40" font-size="9.1" text-anchor="middle" font-weight="normal" fill="#1a1a1a" textLength="25.6" lengthAdjust="spacingAndGlyphs" stroke="#1a1a1a" stroke-width="0.12">10 min</text>
<text x="138.40" y="233.20" font-size="8.6" text-anchor="middle" font-weight="normal" fill="#1a1a1a" transform="rotate(-90 138.40 233.20)" textLength="23.6" lengthAdjust="spacingAndGlyphs" stroke="#1a1a1a" stroke-width="0.28">% Psel+</text>
<rect x="164.20" y="266.20" width="8.20" height="2.80" fill="#dddce0"/>
<rect x="174.30" y="267.20" width="8.30" height="1.80" fill="#a4002b"/>
<rect x="188.50" y="222.10" width="8.40" height="46.90" fill="#c5c3c9"/>
<rect x="198.90" y="232.90" width="8.40" height="36.10" fill="#a4002b"/>
<rect x="213.00" y="211.00" width="8.20" height="58.00" fill="#c5c3c9"/>
<rect x="222.90" y="221.70" width="8.90" height="47.30" fill="#a4002b"/>
<line x1="202.60" y1="230.90" x2="202.60" y2="236.50" stroke="#1a1a1a" stroke-width="0.9"/>
<line x1="201.10" y1="230.90" x2="204.10" y2="230.90" stroke="#1a1a1a" stroke-width="0.9"/>
<line x1="227.40" y1="219.00" x2="227.40" y2="224.00" stroke="#1a1a1a" stroke-width="0.9"/>
<line x1="225.90" y1="219.00" x2="228.90" y2="219.00" stroke="#1a1a1a" stroke-width="0.9"/>
<line x1="164.00" y1="266.10" x2="172.20" y2="266.10" stroke="#1a1a1a" stroke-width="0.9"/>
<circle cx="165.80" cy="262.70" r="1.2" fill="#eef2f2" stroke="#1a1a1a" stroke-width="0.9"/>
<circle cx="170.70" cy="263.60" r="1.2" fill="#eef2f2" stroke="#1a1a1a" stroke-width="0.9"/>
<circle cx="165.50" cy="267.40" r="1.2" fill="#eef2f2" stroke="#1a1a1a" stroke-width="0.9"/>
<circle cx="170.40" cy="267.40" r="1.2" fill="#eef2f2" stroke="#1a1a1a" stroke-width="0.9"/>
<circle cx="176.00" cy="264.90" r="1.2" fill="#eef2f2" stroke="#1a1a1a" stroke-width="0.9"/>
<circle cx="178.50" cy="265.80" r="1.2" fill="#eef2f2" stroke="#1a1a1a" stroke-width="0.9"/>
<circle cx="181.30" cy="265.80" r="1.2" fill="#eef2f2" stroke="#1a1a1a" stroke-width="0.9"/>
<circle cx="177.00" cy="267.80" r="1.2" fill="#eef2f2" stroke="#1a1a1a" stroke-width="0.9"/>
<rect x="188.50" y="220.45" width="8.40" height="3.3" rx="1.65" fill="#3a3a3a"/>
<ellipse cx="191.36" cy="222.10" rx="1.05" ry="0.8" fill="#e8ecec"/>
<ellipse cx="193.96" cy="222.10" rx="1.05" ry="0.8" fill="#e8ecec"/>
<circle cx="205.20" cy="225.90" r="1.2" fill="#eef2f2" stroke="#1a1a1a" stroke-width="0.9"/>
<circle cx="200.40" cy="228.40" r="1.2" fill="#eef2f2" stroke="#1a1a1a" stroke-width="0.9"/>
<circle cx="200.80" cy="230.90" r="1.2" fill="#eef2f2" stroke="#1a1a1a" stroke-width="0.9"/>
<circle cx="203.60" cy="230.90" r="1.2" fill="#eef2f2" stroke="#1a1a1a" stroke-width="0.9"/>
<circle cx="206.40" cy="230.90" r="1.2" fill="#eef2f2" stroke="#1a1a1a" stroke-width="0.9"/>
<circle cx="200.40" cy="233.40" r="1.2" fill="#eef2f2" stroke="#1a1a1a" stroke-width="0.9"/>
<circle cx="202.40" cy="241.00" r="1.2" fill="#eef2f2" stroke="#1a1a1a" stroke-width="0.9"/>
<rect x="213.00" y="209.35" width="8.20" height="3.3" rx="1.65" fill="#3a3a3a"/>
<ellipse cx="215.79" cy="211.00" rx="1.05" ry="0.8" fill="#e8ecec"/>
<ellipse cx="218.33" cy="211.00" rx="1.05" ry="0.8" fill="#e8ecec"/>
<circle cx="227.40" cy="216.70" r="1.2" fill="#eef2f2" stroke="#1a1a1a" stroke-width="0.9"/>
<circle cx="225.90" cy="219.40" r="1.2" fill="#eef2f2" stroke="#1a1a1a" stroke-width="0.9"/>
<circle cx="229.40" cy="219.90" r="1.2" fill="#eef2f2" stroke="#1a1a1a" stroke-width="0.9"/>
<circle cx="224.40" cy="221.70" r="1.2" fill="#eef2f2" stroke="#1a1a1a" stroke-width="0.9"/>
<circle cx="230.40" cy="220.40" r="1.2" fill="#eef2f2" stroke="#1a1a1a" stroke-width="0.9"/>
<circle cx="227.40" cy="226.30" r="1.2" fill="#eef2f2" stroke="#1a1a1a" stroke-width="0.9"/>
<line x1="215.40" y1="201.50" x2="228.10" y2="201.50" stroke="#1a1a1a" stroke-width="1.0"/>
<line x1="215.95" y1="199.75" x2="215.95" y2="203.25" stroke="#1a1a1a" stroke-width="1.1"/>
<line x1="227.55" y1="199.75" x2="227.55" y2="203.25" stroke="#1a1a1a" stroke-width="1.1"/>
<text x="221.75" y="200.90" font-size="6.0" text-anchor="middle" font-weight="normal" fill="#1a1a1a" stroke="#1a1a1a" stroke-width="0.22">**</text>
<text x="169.20" y="275.00" font-size="7.0" text-anchor="end" font-weight="normal" fill="#1a1a1a" transform="rotate(-45 169.20 275.00)" stroke="#1a1a1a" stroke-width="0.22">Neg</text>
<text x="184.20" y="276.20" font-size="7.0" text-anchor="end" font-weight="normal" fill="#1a1a1a" transform="rotate(-45 184.20 276.20)" stroke="#1a1a1a" stroke-width="0.22">COMMD7</text>
<text x="197.10" y="275.00" font-size="7.0" text-anchor="end" font-weight="normal" fill="#1a1a1a" transform="rotate(-45 197.10 275.00)" stroke="#1a1a1a" stroke-width="0.22">Neg</text>
<text x="208.70" y="276.20" font-size="7.0" text-anchor="end" font-weight="normal" fill="#1a1a1a" transform="rotate(-45 208.70 276.20)" stroke="#1a1a1a" stroke-width="0.22">COMMD7</text>
<text x="220.10" y="275.00" font-size="7.0" text-anchor="end" font-weight="normal" fill="#1a1a1a" transform="rotate(-45 220.10 275.00)" stroke="#1a1a1a" stroke-width="0.22">Neg</text>
<text x="232.40" y="276.20" font-size="7.0" text-anchor="end" font-weight="normal" fill="#1a1a1a" transform="rotate(-45 232.40 276.20)" stroke="#1a1a1a" stroke-width="0.22">COMMD7</text>
<line x1="166.30" y1="303.30" x2="183.30" y2="303.30" stroke="#333" stroke-width="1.0"/>
<line x1="189.00" y1="303.30" x2="205.80" y2="303.30" stroke="#333" stroke-width="1.0"/>
<line x1="212.90" y1="303.30" x2="229.60" y2="303.30" stroke="#333" stroke-width="1.0"/>
<text x="174.80" y="312.70" font-size="7.3" text-anchor="middle" font-weight="normal" fill="#1a1a1a" textLength="8.4" lengthAdjust="spacingAndGlyphs" stroke="#1a1a1a" stroke-width="0.12">BL</text>
<text x="197.45" y="312.70" font-size="7.3" text-anchor="middle" font-weight="normal" fill="#1a1a1a" textLength="14.3" lengthAdjust="spacingAndGlyphs" stroke="#1a1a1a" stroke-width="0.12">CVX</text>
<text x="221.00" y="312.70" font-size="7.3" text-anchor="middle" font-weight="normal" fill="#1a1a1a" textLength="14.6" lengthAdjust="spacingAndGlyphs" stroke="#1a1a1a" stroke-width="0.12">THR</text>
<line x1="290.00" y1="193.90" x2="290.00" y2="269.60" stroke="#1a1a1a" stroke-width="1.2"/>
<line x1="286.50" y1="269.00" x2="372.70" y2="269.00" stroke="#1a1a1a" stroke-width="1.2"/>
<text x="283.40" y="271.45" font-size="6.9" text-anchor="end" font-weight="normal" fill="#1a1a1a" stroke="#1a1a1a" stroke-width="0.18">0</text>
<line x1="286.50" y1="250.88" x2="290.00" y2="250.88" stroke="#1a1a1a" stroke-width="1.1"/>
<text x="283.40" y="253.32" font-size="6.9" text-anchor="end" font-weight="normal" fill="#1a1a1a" stroke="#1a1a1a" stroke-width="0.18">10</text>
<line x1="286.50" y1="232.75" x2="290.00" y2="232.75" stroke="#1a1a1a" stroke-width="1.1"/>
<text x="283.40" y="235.20" font-size="6.9" text-anchor="end" font-weight="normal" fill="#1a1a1a" stroke="#1a1a1a" stroke-width="0.18">20</text>
<line x1="286.50" y1="214.62" x2="290.00" y2="214.62" stroke="#1a1a1a" stroke-width="1.1"/>
<text x="283.40" y="217.07" font-size="6.9" text-anchor="end" font-weight="normal" fill="#1a1a1a" stroke="#1a1a1a" stroke-width="0.18">30</text>
<line x1="286.50" y1="196.50" x2="290.00" y2="196.50" stroke="#1a1a1a" stroke-width="1.1"/>
<text x="283.40" y="198.95" font-size="6.9" text-anchor="end" font-weight="normal" fill="#1a1a1a" stroke="#1a1a1a" stroke-width="0.18">40</text>
<text x="268.60" y="231.20" font-size="8.6" text-anchor="middle" font-weight="normal" fill="#1a1a1a" transform="rotate(-90 268.60 231.20)" textLength="26.5" lengthAdjust="spacingAndGlyphs" stroke="#1a1a1a" stroke-width="0.28">%CD63+</text>
<rect x="295.20" y="254.20" width="7.90" height="14.80" fill="#c5c3c9"/>
<rect x="305.20" y="254.40" width="7.90" height="14.60" fill="#a4002b"/>
<rect x="323.20" y="244.00" width="7.90" height="25.00" fill="#c5c3c9"/>
<rect x="333.00" y="247.00" width="7.80" height="22.00" fill="#a4002b"/>
<rect x="349.90" y="214.60" width="8.30" height="54.40" fill="#c5c3c9"/>
<rect x="359.90" y="232.70" width="8.50" height="36.30" fill="#a4002b"/>
<line x1="364.30" y1="229.00" x2="364.30" y2="235.20" stroke="#1a1a1a" stroke-width="0.9"/>
<line x1="362.80" y1="229.00" x2="365.80" y2="229.00" stroke="#1a1a1a" stroke-width="0.9"/>
<line x1="362.80" y1="235.20" x2="365.80" y2="235.20" stroke="#1a1a1a" stroke-width="0.9"/>
<line x1="306.30" y1="253.30" x2="312.60" y2="253.30" stroke="#1a1a1a" stroke-width="0.9"/>
<line x1="333.80" y1="246.30" x2="339.00" y2="246.30" stroke="#1a1a1a" stroke-width="0.9"/>
<circle cx="296.90" cy="253.10" r="1.3" fill="#eef2f2" stroke="#1a1a1a" stroke-width="0.9"/>
<circle cx="299.50" cy="253.10" r="1.3" fill="#eef2f2" stroke="#1a1a1a" stroke-width="0.9"/>
<circle cx="302.10" cy="253.10" r="1.3" fill="#eef2f2" stroke="#1a1a1a" stroke-width="0.9"/>
<circle cx="306.30" cy="251.20" r="1.2" fill="#eef2f2" stroke="#1a1a1a" stroke-width="0.9"/>
<circle cx="306.30" cy="253.90" r="1.2" fill="#eef2f2" stroke="#1a1a1a" stroke-width="0.9"/>
<circle cx="312.30" cy="253.30" r="1.2" fill="#eef2f2" stroke="#1a1a1a" stroke-width="0.9"/>
<circle cx="324.90" cy="243.30" r="1.3" fill="#eef2f2" stroke="#1a1a1a" stroke-width="0.9"/>
<circle cx="327.40" cy="243.30" r="1.3" fill="#eef2f2" stroke="#1a1a1a" stroke-width="0.9"/>
<circle cx="329.90" cy="243.30" r="1.3" fill="#eef2f2" stroke="#1a1a1a" stroke-width="0.9"/>
<circle cx="333.80" cy="243.80" r="1.2" fill="#eef2f2" stroke="#1a1a1a" stroke-width="0.9"/>
<circle cx="333.80" cy="248.00" r="1.2" fill="#eef2f2" stroke="#1a1a1a" stroke-width="0.9"/>
<circle cx="336.60" cy="246.30" r="1.2" fill="#eef2f2" stroke="#1a1a1a" stroke-width="0.9"/>
<circle cx="339.40" cy="246.30" r="1.2" fill="#eef2f2" stroke="#1a1a1a" stroke-width="0.9"/>
<circle cx="351.20" cy="214.10" r="1.3" fill="#eef2f2" stroke="#1a1a1a" stroke-width="0.9"/>
<circle cx="354.00" cy="214.10" r="1.3" fill="#eef2f2" stroke="#1a1a1a" stroke-width="0.9"/>
<circle cx="356.80" cy="214.10" r="1.3" fill="#eef2f2" stroke="#1a1a1a" stroke-width="0.9"/>
<circle cx="364.30" cy="226.50" r="1.2" fill="#eef2f2" stroke="#1a1a1a" stroke-width="0.9"/>
<circle cx="364.30" cy="229.00" r="1.2" fill="#eef2f2" stroke="#1a1a1a" stroke-width="0.9"/>
<circle cx="364.30" cy="238.60" r="1.2" fill="#eef2f2" stroke="#1a1a1a" stroke-width="0.9"/>
<line x1="352.70" y1="200.60" x2="365.90" y2="200.60" stroke="#1a1a1a" stroke-width="1.0"/>
<line x1="353.25" y1="198.85" x2="353.25" y2="202.35" stroke="#1a1a1a" stroke-width="1.1"/>
<line x1="365.35" y1="198.85" x2="365.35" y2="202.35" stroke="#1a1a1a" stroke-width="1.1"/>
<text x="359.30" y="196.10" font-size="7.0" text-anchor="middle" font-weight="normal" fill="#1a1a1a" stroke="#1a1a1a" stroke-width="0.12">0.06</text>
<text x="304.20" y="275.00" font-size="7.0" text-anchor="end" font-weight="normal" fill="#1a1a1a" transform="rotate(-45 304.20 275.00)" stroke="#1a1a1a" stroke-width="0.22">Neg</text>
<text x="318.70" y="276.20" font-size="7.0" text-anchor="end" font-weight="normal" fill="#1a1a1a" transform="rotate(-45 318.70 276.20)" stroke="#1a1a1a" stroke-width="0.22">COMMD7</text>
<text x="331.90" y="275.00" font-size="7.0" text-anchor="end" font-weight="normal" fill="#1a1a1a" transform="rotate(-45 331.90 275.00)" stroke="#1a1a1a" stroke-width="0.22">Neg</text>
<text x="344.70" y="276.20" font-size="7.0" text-anchor="end" font-weight="normal" fill="#1a1a1a" transform="rotate(-45 344.70 276.20)" stroke="#1a1a1a" stroke-width="0.22">COMMD7</text>
<text x="355.10" y="275.00" font-size="7.0" text-anchor="end" font-weight="normal" fill="#1a1a1a" transform="rotate(-45 355.10 275.00)" stroke="#1a1a1a" stroke-width="0.22">Neg</text>
<text x="367.40" y="276.20" font-size="7.0" text-anchor="end" font-weight="normal" fill="#1a1a1a" transform="rotate(-45 367.40 276.20)" stroke="#1a1a1a" stroke-width="0.22">COMMD7</text>
<line x1="297.20" y1="303.30" x2="314.20" y2="303.30" stroke="#333" stroke-width="1.0"/>
<line x1="323.00" y1="303.30" x2="340.00" y2="303.30" stroke="#333" stroke-width="1.0"/>
<line x1="349.60" y1="303.30" x2="366.40" y2="303.30" stroke="#333" stroke-width="1.0"/>
<text x="306.05" y="312.80" font-size="7.3" text-anchor="middle" font-weight="normal" fill="#1a1a1a" textLength="8.5" lengthAdjust="spacingAndGlyphs" stroke="#1a1a1a" stroke-width="0.12">BL</text>
<text x="331.30" y="312.80" font-size="7.3" text-anchor="middle" font-weight="normal" fill="#1a1a1a" textLength="13.6" lengthAdjust="spacingAndGlyphs" stroke="#1a1a1a" stroke-width="0.12">CVX</text>
<text x="357.80" y="312.80" font-size="7.3" text-anchor="middle" font-weight="normal" fill="#1a1a1a" textLength="14.6" lengthAdjust="spacingAndGlyphs" stroke="#1a1a1a" stroke-width="0.12">THR</text>
</g></svg>
</body></html>
